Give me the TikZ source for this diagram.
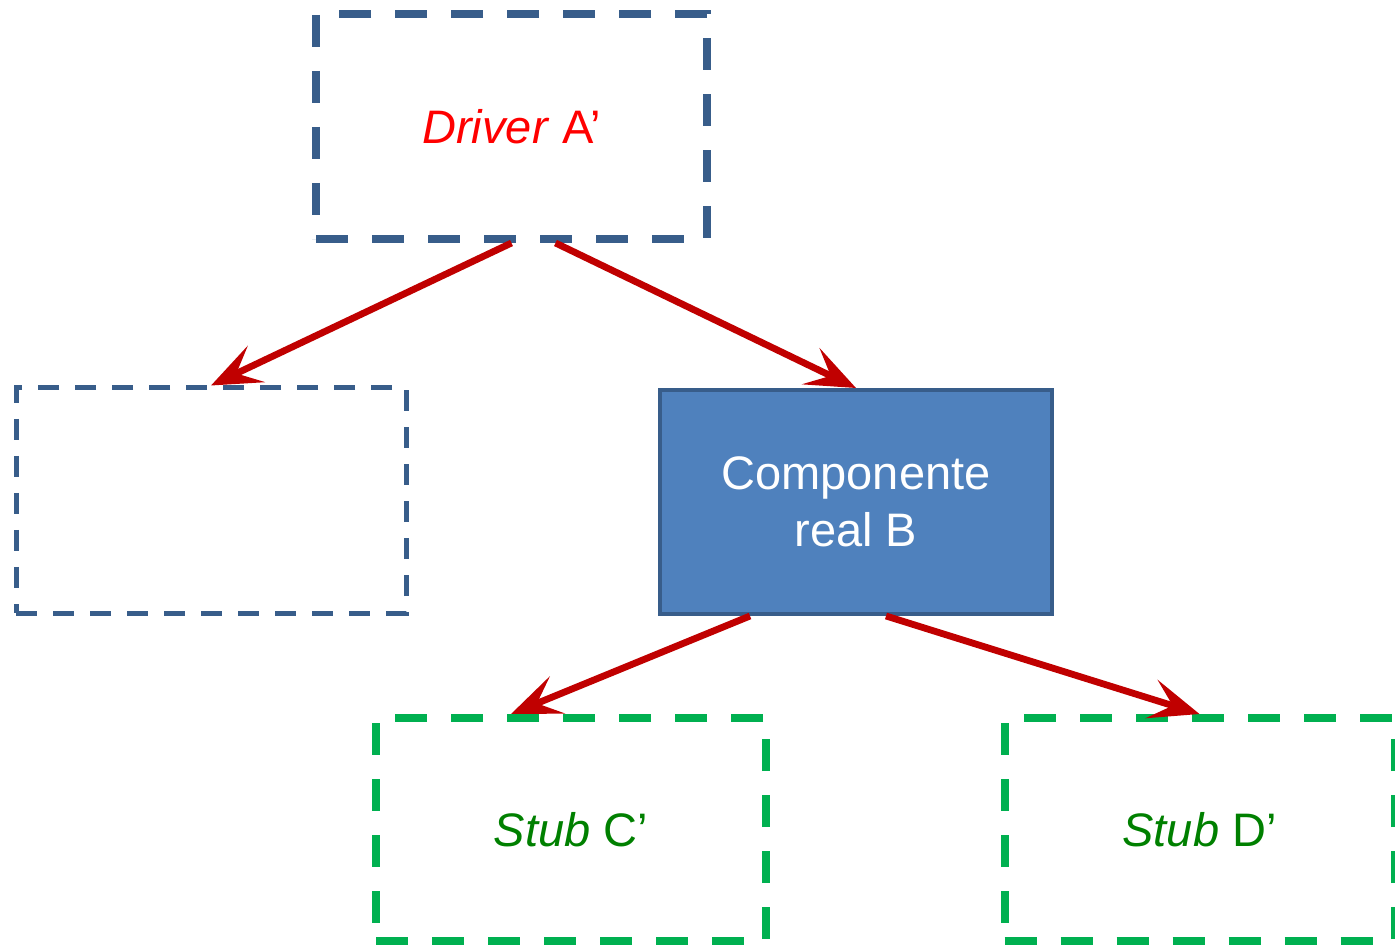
\documentclass[tikz,border=0pt]{standalone}
\usepackage{fontspec}
\setmainfont{Liberation Sans}
\usetikzlibrary{arrows.meta}

\definecolor{boxblue}{HTML}{385D8A}
\definecolor{fillblue}{HTML}{4F81BD}
\definecolor{stubgreen}{HTML}{00B050}
\definecolor{textgreen}{HTML}{008000}
\definecolor{arrowred}{HTML}{C00000}

\begin{document}
\begin{tikzpicture}[x=0.5pt, y=-0.5pt,
  every node/.style={font=\fontsize{23.5pt}{28.5pt}\selectfont, align=center},
  drvbox/.style={draw=boxblue, line width=4pt, dash pattern=on 16pt off 12pt, minimum width=195.5pt, minimum height=112.5pt},
  emptybox/.style={draw=boxblue, line width=2.5pt, dash pattern=on 10.5pt off 8pt, minimum width=195pt, minimum height=112.5pt},
  realbox/.style={draw=boxblue, fill=fillblue, line width=2pt, text=white, minimum width=196pt, minimum height=112pt},
  stubbox/.style={draw=stubgreen, line width=4pt, dash pattern=on 16pt off 12pt, minimum width=195pt, minimum height=111.5pt, text=textgreen},
  call/.style={draw=arrowred, line width=3.4pt, -{Stealth[length=25pt, width=20pt, inset=11pt]}}]
 \useasboundingbox (0,0) rectangle (1395,945);

 \node[drvbox, text=red] (drv) at (511.5,126.5) {\textit{Driver} A’};
 \node[emptybox] (empty) at (211,500.5) {};
 \node[realbox] (comp) at (856,502) {Componente\\real B};
 \node[stubbox] (stubc) at (571,829.5) {\textit{Stub} C’};
 \node[stubbox] (stubd) at (1199.5,829.5) {\textit{Stub} D’};

 % chamadas
 \draw[call] (drv.south) -- (empty.north);
 \draw[call] ([xshift=22pt]drv.south) -- (comp.north);
 \draw[call] ([xshift=-53pt]comp.south) -- ([xshift=-30pt]stubc.north);
 \draw[call] ([xshift=15pt]comp.south) -- (stubd.north);
\end{tikzpicture}
\end{document}
